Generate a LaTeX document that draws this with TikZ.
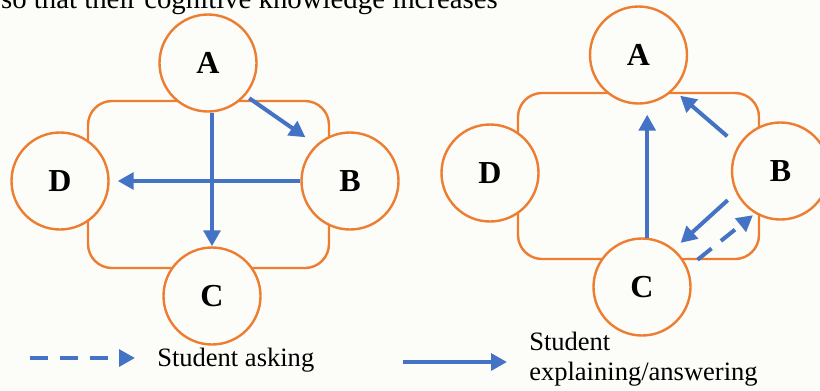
\documentclass[tikz,border=0pt]{standalone}
\usepackage{fontspec}
\setmainfont{Liberation Serif}
\usetikzlibrary{arrows.meta}
\definecolor{lineblue}{RGB}{68,114,196}
\definecolor{ringorange}{RGB}{237,125,49}
\definecolor{paper}{RGB}{252,252,248}

\begin{document}
\begin{tikzpicture}[x=0.75pt,y=-0.75pt,
  member/.style={circle,draw=ringorange,line width=1.8pt,fill=paper,minimum size=72.75pt,inner sep=0pt,font=\fontsize{24}{24}\selectfont\bfseries},
  group/.style={draw=ringorange,line width=1.8pt,rounded corners=18pt},
  explain/.style={draw=lineblue,line width=3pt,-{Triangle[length=12pt,width=12.5pt]}},
  ask/.style={explain,dash pattern=on 13.5pt off 9pt},
  legend/.style={inner sep=0pt,font=\fontsize{19.9}{24}\selectfont}]

\fill[paper] (0,0) rectangle (820,390);
\useasboundingbox (0,0) rectangle (820,390);
\clip (0,0) rectangle (820,390);

% text of the page above the figure
\node[legend,font=\fontsize{21.6}{24}\selectfont,anchor=base east] (intro) at (498,8) {so that their cognitive knowledge increases};

% first group:
\draw[group] (88,101) rectangle (329,268);
\node[member] (A1) at (208,63) {A};
\node[member] (B1) at (350,181) {B};
\node[member] (C1) at (212,296) {C};
\node[member] (D1) at (60,181) {D};
\draw[explain] (C1.north |- A1.south) -- (C1.north);
\draw[explain,shorten >=6pt] (B1) -- (D1);
\draw[explain,shorten <=3.4pt,shorten >=9.75pt] (A1.-41) -- (B1.133);

% second group:
\draw[group] (518,93) rectangle (759,259);
\node[member] (A2) at (638.5,55) {A};
\node[member] (B2) at (780.5,171) {B};
\node[member] (C2) at (642,287) {C};
\node[member] (D2) at (490,173) {D};
\draw[explain,shorten >=7.5pt] (C2.84) -- (C2.84 |- A2.south);
\draw[explain,shorten <=10.5pt,shorten >=6.4pt] (B2.149) -- (A2.-45);
\draw[explain,shorten <=8.25pt,shorten >=6.75pt] (B2.-154) -- (C2.50);
\draw[ask,shorten <=9.4pt,shorten >=1.9pt] (C2.23) -- (B2.-121);

% legend:
\coordinate (askfrom) at (30,358);
\coordinate (askto) at (135,358);
\draw[ask] (askfrom) -- (askto);
\node[legend,anchor=base west] (asklabel) at (157,366) {Student asking};
\coordinate (explfrom) at (403,362);
\coordinate (explto) at (507,362);
\draw[explain] (explfrom) -- (explto);
\node[legend,anchor=base west] (expllabel) at (529,350) {Student};
\node[legend,anchor=base west] (expllabel2) at (529,380) {explaining/answering};

\end{tikzpicture}
\end{document}
